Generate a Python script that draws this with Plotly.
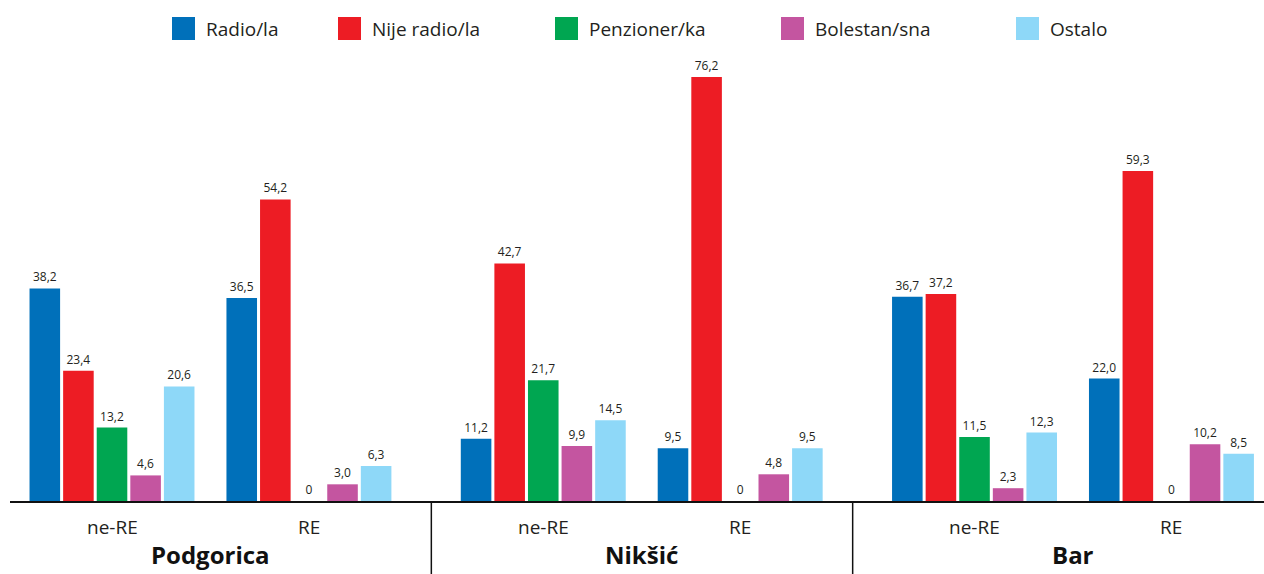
import plotly.graph_objects as go

# data
cities = ["Podgorica", "Nikšić", "Bar"]
groups = ["ne-RE", "RE"]
series = ["Radio/la", "Nije radio/la", "Penzioner/ka", "Bolestan/sna", "Ostalo"]
colors = ["#0070BA", "#ED1C24", "#00A651", "#C455A0", "#8ED8F8"]

# values per series, order: Podgorica ne-RE, RE, Nikšić ne-RE, RE, Bar ne-RE, RE
radio = [38.2, 36.5, 11.2, 9.5, 36.7, 22.0]
nije_radio = [23.4, 54.2, 42.7, 76.2, 37.2, 59.3]
penzioner = [13.2, 0, 21.7, 0, 11.5, 0]
bolestan = [4.6, 3.0, 9.9, 4.8, 2.3, 10.2]
ostalo = [20.6, 6.3, 14.5, 9.5, 12.3, 8.5]
values = [radio, nije_radio, penzioner, bolestan, ostalo]

FONT = "Open Sans"
TXT = "#231F20"
W, H = 1264, 574
ML, MR, MT, MB = 10, 0, 60, 73
PW, PH = W - ML - MR, H - MT - MB

city_step = 2.19
xpos = [ci * city_step + j for ci in range(len(cities)) for j in range(len(groups))]
xlabels = [g for _ in cities for g in groups]


def fmt(v):
    return "0" if v == 0 else f"{v:.1f}".replace(".", ",")


fig = go.Figure()
for name, col, vals in zip(series, colors, values):
    fig.add_trace(go.Bar(
        x=xpos, y=vals, name=name, marker_color=col, marker_line_width=0,
        text=[fmt(v) for v in vals], textposition="outside", cliponaxis=False,
        textfont=dict(family=FONT, size=12, color=TXT), showlegend=False,
    ))

x0, x1 = -0.518, 5.85
fig.update_layout(
    width=W, height=H, margin=dict(l=ML, r=MR, t=MT, b=MB),
    plot_bgcolor="white", paper_bgcolor="white",
    barmode="group", bargap=0.147, bargroupgap=0.09,
    font=dict(family=FONT, color=TXT),
    xaxis=dict(range=[x0, x1], showgrid=False, zeroline=False, showticklabels=False,
               showline=True, linecolor="#111", linewidth=1.5, ticks=""),
    yaxis=dict(range=[0, 79.26], visible=False),
)


def xp(px):
    return (px - ML) / PW


def yp(py):
    return (H - MB - py) / PH


# sub-category labels and city names
for x, lab in zip(xpos, xlabels):
    fig.add_annotation(x=x, xref="x", y=yp(527), yref="paper", text=lab, showarrow=False,
                       font=dict(size=19, family=FONT, color=TXT), yanchor="middle")
for ci, c in enumerate(cities):
    fig.add_annotation(x=ci * city_step + 0.5, xref="x", y=yp(573), yref="paper",
                       text=f"<b>{c}</b>", showarrow=False,
                       font=dict(size=24, family=FONT, color="#111"), yanchor="bottom")
# separators between cities (at thirds of the figure width)
for ci in range(1, len(cities)):
    sx = xp(W * ci / 3 + 10)
    fig.add_shape(type="line", x0=sx, x1=sx, xref="paper", y0=0, y1=yp(H), yref="paper",
                  line=dict(color="#111", width=1.5))

# legend
leg_x = [172, 338, 555, 781, 1016]
for lx, name, col in zip(leg_x, series, colors):
    fig.add_shape(type="rect", xref="paper", yref="paper",
                  x0=xp(lx), x1=xp(lx + 23), y0=yp(40), y1=yp(17),
                  fillcolor=col, line_width=0)
    fig.add_annotation(x=xp(lx + 32), y=yp(29), xref="paper", yref="paper", text=name,
                       showarrow=False, xanchor="left", yanchor="middle",
                       font=dict(size=19, family=FONT, color=TXT))

fig.write_html("out.html", config={"displayModeBar": False},
               post_script="document.body.style.margin='0';")
